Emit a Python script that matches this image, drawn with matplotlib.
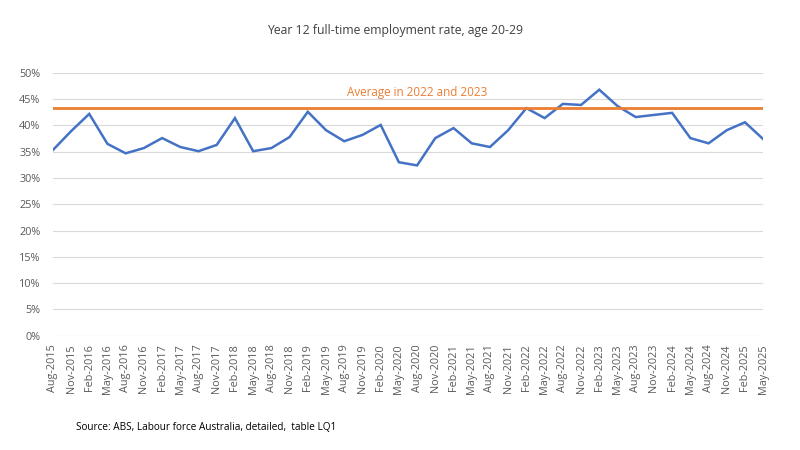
import numpy as np
import matplotlib.pyplot as plt
from matplotlib.ticker import PercentFormatter

quarters = [
    "Aug-2015", "Nov-2015", "Feb-2016", "May-2016", "Aug-2016", "Nov-2016",
    "Feb-2017", "May-2017", "Aug-2017", "Nov-2017", "Feb-2018", "May-2018",
    "Aug-2018", "Nov-2018", "Feb-2019", "May-2019", "Aug-2019", "Nov-2019",
    "Feb-2020", "May-2020", "Aug-2020", "Nov-2020", "Feb-2021", "May-2021",
    "Aug-2021", "Nov-2021", "Feb-2022", "May-2022", "Aug-2022", "Nov-2022",
    "Feb-2023", "May-2023", "Aug-2023", "Nov-2023", "Feb-2024", "May-2024",
    "Aug-2024", "Nov-2024", "Feb-2025", "May-2025",
]
# full-time employment rate, %
rate = [
    35.3, 38.9, 42.2, 36.5, 34.7, 35.7, 37.6, 35.9, 35.1, 36.3,
    41.4, 35.1, 35.7, 37.8, 42.6, 39.1, 37.0, 38.2, 40.1, 33.0,
    32.4, 37.6, 39.5, 36.6, 35.9, 39.1, 43.3, 41.4, 44.1, 43.9,
    46.8, 43.7, 41.6, 42.0, 42.4, 37.6, 36.6, 39.1, 40.6, 37.4,
]

# average over the 2022 and 2023 quarters
in_22_23 = [r for q, r in zip(quarters, rate) if q[-4:] in ("2022", "2023")]
avg = np.mean(in_22_23)

plt.rcParams["font.family"] = ["Open Sans", "DejaVu Sans"]

fig = plt.figure(figsize=(8, 4.5), dpi=100)
ax = fig.add_axes([0.066, 0.254, 0.888, 0.584])

x = np.arange(len(quarters))
ax.plot(x, rate, color="#4472C4", lw=1.8, solid_joinstyle="miter")
ax.plot(x, [avg] * len(x), color="#ED7D31", lw=2.0)
ax.text(x.mean() + 0.5, avg + 1.6, "Average in 2022 and 2023", color="#ED7D31",
        fontsize=8.4, ha="center", va="bottom")

ax.set_xlim(0, len(x) - 1)
ax.set_ylim(0, 50)
ax.set_yticks(np.arange(0, 51, 5))
ax.yaxis.set_major_formatter(PercentFormatter(decimals=0))
ax.set_xticks(x)
ax.set_xticklabels(quarters, rotation=90)
ax.tick_params(axis="both", length=0, labelsize=7.8, colors="#595959")
ax.tick_params(axis="y", pad=9)
ax.tick_params(axis="x", pad=6)
ax.grid(axis="y", color="#D9D9D9", lw=0.8)
ax.set_axisbelow(True)
for s in ax.spines.values():
    s.set_visible(False)

fig.text(0.494, 0.933, "Year 12 full-time employment rate, age 20-29", ha="center",
         va="center", fontsize=8.8, color="#404040")
fig.text(0.095, 0.051, "Source: ABS, Labour force Australia, detailed,  table LQ1",
         ha="left", va="center", fontsize=7.2, color="#000000")

fig.savefig("out.png", dpi=100)
